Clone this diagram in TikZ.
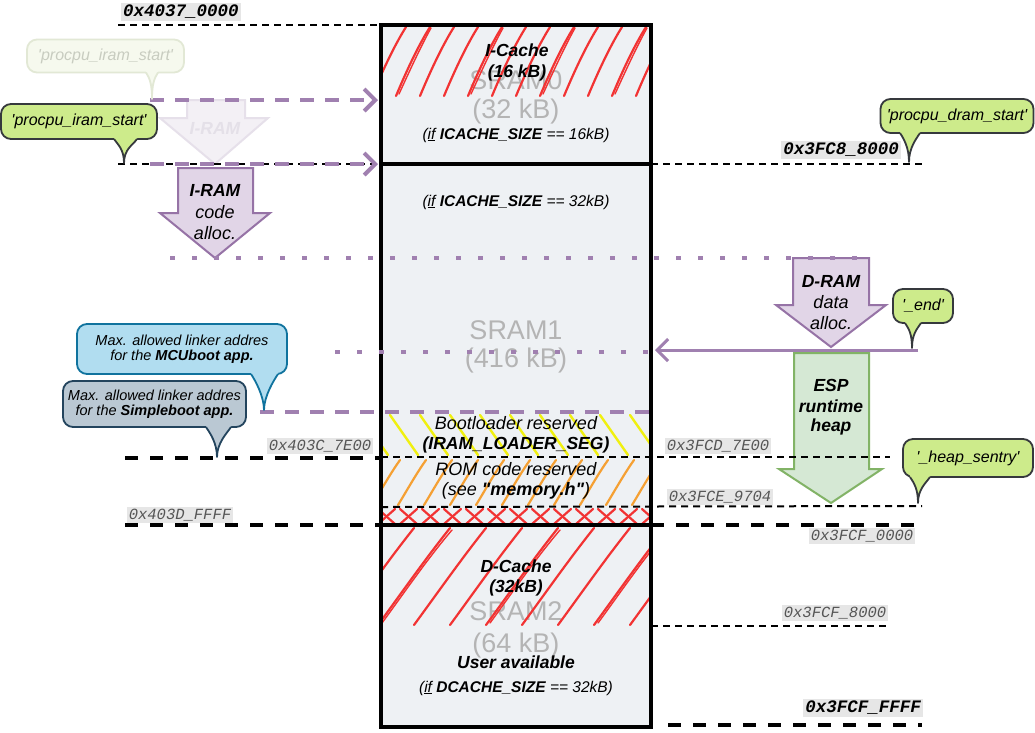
\documentclass[tikz,border=0pt]{standalone}
\usepackage{fontspec}
\setmainfont{Liberation Sans}
\newfontfamily\addrfont{Liberation Mono}
\usetikzlibrary{arrows.meta}
\newcommand\myfs[1]{\fontsize{#1}{#1}\selectfont}
\definecolor{boxfill}{HTML}{EEF1F4}
\definecolor{sramgray}{HTML}{B4B4B4}
\definecolor{purp}{RGB}{160,128,176}
\definecolor{arrowfill}{HTML}{E1D5E7}
\definecolor{arrowline}{HTML}{9673A6}
\definecolor{heapfill}{HTML}{D5E8D4}
\definecolor{heapline}{HTML}{82B366}
\definecolor{bubgreen}{HTML}{CDEB8B}
\definecolor{bubline}{HTML}{36393D}
\definecolor{fadefill}{HTML}{F6F9EE}
\definecolor{fadeline}{HTML}{E2E8D5}
\definecolor{fadetext}{HTML}{C8CCC0}
\definecolor{bubblue}{HTML}{B1DDF0}
\definecolor{bubblueline}{HTML}{10739E}
\definecolor{bubgray}{HTML}{BAC8D3}
\definecolor{bubgrayline}{HTML}{23445D}
\definecolor{addrbg}{HTML}{E6E6E6}
\definecolor{addrtxt}{HTML}{555555}
\definecolor{hred}{HTML}{F23333}
\definecolor{hyellow}{HTML}{F0F010}
\definecolor{horange}{HTML}{F5A033}
\definecolor{fadearrowfill}{HTML}{F3F0F5}
\definecolor{fadearrowline}{HTML}{E6E0EA}
\definecolor{fadearrowtext}{HTML}{E4E0E8}
\newcommand\mybubtail[7]{%
  \fill[#1] (#3,#5-5) -- (#3,#5) .. controls (#3+4,#5+6) and (#6,#7-14) .. (#6,#7) .. controls (#6,#7-14) and (#4-4,#5+6) .. (#4,#5) -- (#4,#5-5) -- cycle;
  \draw[#2, line width=1.8pt, line join=round] (#3,#5) .. controls (#3+4,#5+6) and (#6,#7-14) .. (#6,#7) .. controls (#6,#7-14) and (#4-4,#5+6) .. (#4,#5);
}
\tikzset{
  boxline/.style={draw=black, line width=3.5pt},
  sram/.style={text=sramgray, font=\myfs{27}, inner sep=0pt},
  intext/.style={font=\myfs{18}\itshape, inner sep=0pt},
  inbold/.style={font=\myfs{17.5}\bfseries\itshape, inner sep=0pt},
  iftext/.style={font=\myfs{15.5}\itshape, inner sep=0pt},
  addrA/.style={fill=addrbg, inner xsep=2pt, inner ysep=2pt, font=\addrfont\bfseries\itshape\myfs{17.5}, text=black},
  addrB/.style={fill=addrbg, inner xsep=2pt, inner ysep=1.5pt, font=\addrfont\itshape\myfs{15.5}, text=addrtxt},
  thindash/.style={draw=black, line width=2pt, dash pattern=on 7pt off 5pt},
  thickdash/.style={draw=black, line width=4pt, dash pattern=on 13pt off 12pt},
  purpdash/.style={draw=purp, line width=4pt, dash pattern=on 14pt off 11pt},
  purpdot/.style={draw=purp, line width=4.5pt, dash pattern=on 4.5pt off 17.5pt},
  barb/.style={-{Straight Barb[length=11pt,width=22pt]}},
  hatchred/.style={draw=hred, line width=2.2pt, line cap=round},
  hatchyel/.style={draw=hyellow, line width=2.4pt, line cap=round},
  hatchora/.style={draw=horange, line width=2.2pt, line cap=round},
  bubble/.style={line width=1.8pt, rounded corners=10pt, inner sep=0pt, align=center},
  allocarrow/.style={fill=arrowfill, draw=arrowline, line width=2pt},
  heaparrow/.style={fill=heapfill, draw=heapline, line width=2pt},
}
\begin{document}
\begin{tikzpicture}[x=1pt,y=-1pt]
\useasboundingbox (0,0) rectangle (1035,732);
\fill[white] (0,0) rectangle (1035,732);

% memory block background
\fill[boxfill] (381,25) rectangle (651,727);

% large gray region names
\node[sram] (s0a) at (516,80) {SRAM0};
\node[sram] (s0b) at (516,112) {(32 kB)};
\node[sram] (s1a) at (516,330) {SRAM1};
\node[sram] (s1b) at (516,361) {(416 kB)};
\node[sram] (s2a) at (516,611) {SRAM2};
\node[sram] (s2b) at (516,645) {(64 kB)};

% hatches: I-Cache
\begin{scope}
\clip (381,25) rectangle (651,98);
\foreach \x in {372,396,...,660} {
  \draw[hatchred] (\x,96) .. controls (\x+10,72) and (\x+22,46) .. (\x+34,27);
}
\foreach \x in {396,468,540,612} {
  \draw[hatchred, line width=1.4pt] (\x+3,94) .. controls (\x+14,70) and (\x+25,46) .. (\x+35,28);
}
\end{scope}
% Bootloader reserved (yellow)
\begin{scope}
\clip (381,412) rectangle (651,457);
\foreach \x in {360,390,...,660} {
  \draw[hatchyel] (\x,415) -- (\x+28,455);
}
\end{scope}
% ROM code (orange)
\begin{scope}
\clip (381,457) rectangle (651,508);
\foreach \x in {372,398,...,660} {
  \draw[hatchora] (\x,505) .. controls (\x+8,492) and (\x+18,474) .. (\x+28,460);
}
\end{scope}
% crosses
\begin{scope}
\clip (381,508) rectangle (651,525);
\foreach \x in {378,400,...,660} {
  \draw[hatchred] (\x,524) -- (\x+17,509);
  \draw[hatchred] (\x,509) -- (\x+17,524);
}
\end{scope}
% D-Cache
\begin{scope}
\clip (381,525) rectangle (651,628);
\foreach \x in {306,342,...,660} {
  \draw[hatchred] (\x,625) .. controls (\x+22,595) and (\x+48,558) .. (\x+72,528);
}
\foreach \x in {378,486,594} {
  \draw[hatchred, line width=1.4pt] (\x+4,623) .. controls (\x+26,593) and (\x+50,558) .. (\x+74,530);
}
\end{scope}

% memory block borders
\draw[boxline] (381,25) rectangle (651,727);
\coordinate (m0l) at (381,164); \coordinate (m0r) at (651,164);
\coordinate (m1l) at (381,525); \coordinate (m1r) at (651,525);
\draw[boxline] (m0l) -- (m0r);
\draw[boxline] (m1l) -- (m1r);

% faded I-RAM arrow
\draw[fill=fadearrowfill, draw=fadearrowline, line width=2pt] (187,100) -- (245,100) -- (245,118) -- (268,118) -- (215,164) -- (160,118) -- (187,118) -- cycle;
\node[inbold, text=fadearrowtext] (iramfade) at (215,128) {I-RAM};

% I-RAM arrow
\draw[allocarrow] (178,168) -- (253,168) -- (253,213) -- (270,213) -- (215,258) -- (160,213) -- (178,213) -- cycle;
\node[inbold] (iram1) at (215,190) {I-RAM};
\node[intext] (iram2) at (215,212) {code};
\node[intext] (iram3) at (215,233) {alloc.};

% D-RAM arrow
\draw[allocarrow] (793,258) -- (869,258) -- (869,305) -- (886,305) -- (831,347) -- (776,305) -- (793,305) -- cycle;
\node[inbold] (dram1) at (831,281) {D-RAM};
\node[intext] (dram2) at (831,302) {data};
\node[intext] (dram3) at (831,323) {alloc.};

% heap arrow
\draw[heaparrow] (794,353) -- (869,353) -- (869,469) -- (882,469) -- (831,503) -- (779,469) -- (794,469) -- cycle;
\node[inbold] (heap1) at (831,385) {ESP};
\node[inbold] (heap2) at (831,406) {runtime};
\node[inbold] (heap3) at (831,427) {heap};

% address lines
\coordinate (a0l) at (118,25); \coordinate (a0r) at (381,25);
\draw[thindash] (a0l) -- (a0r);
\coordinate (a1l) at (118,164);
\draw[thindash] (a1l) -- (m0l);
\coordinate (a1r) at (922,164);
\draw[thindash] (m0r) -- (a1r);
\coordinate (a2l) at (125,458); \coordinate (a2m) at (381,458);
\draw[thickdash] (a2l) -- (a2m);
\coordinate (a3l) at (381,457); \coordinate (a3r) at (890,457);
\draw[thindash] (a3l) -- (a3r);
\coordinate (a4l) at (381,507); \coordinate (a4r) at (922,506);
\draw[thindash] (a4l) -- (a4r);
\coordinate (a5l) at (125,525);
\draw[thickdash] (a5l) -- (m1l);
\coordinate (a5r) at (922,525);
\draw[thickdash] (m1r) -- (a5r);
\coordinate (a6l) at (651,626); \coordinate (a6r) at (890,626);
\draw[thindash] (a6l) -- (a6r);
\coordinate (a7l) at (668,725); \coordinate (a7r) at (922,725);
\draw[thickdash] (a7l) -- (a7r);

% purple marker lines
\coordinate (p0l) at (150,100); \coordinate (p0r) at (378,100);
\draw[purpdash, barb] (p0l) -- (p0r);
\coordinate (p1l) at (150,164); \coordinate (p1r) at (378,164);
\draw[purpdash, barb] (p1l) -- (p1r);
\coordinate (d0l) at (170,258); \coordinate (d0r) at (872,258);
\draw[purpdot] (d0l) -- (d0r);
\coordinate (d1l) at (335,352); \coordinate (d1r) at (650,352);
\draw[purpdot] (d1l) -- (d1r);
\coordinate (p2l) at (260,412); \coordinate (p2r) at (651,412);
\draw[purpdash] (p2l) -- (p2r);
\coordinate (e0r) at (918,350); \coordinate (e0l) at (655,350);
\draw[draw=purp, line width=3pt, barb] (e0r) -- (e0l);

% texts in memory block
\node[inbold] (ic1) at (517,50) {I-Cache};
\node[inbold] (ic2) at (517,73) {(16 kB)};
\node[iftext] (if16) at (516,135) {(\underline{if} \textbf{ICACHE\_SIZE} == 16kB)};
\node[iftext] (if32) at (516,202) {(\underline{if} \textbf{ICACHE\_SIZE} == 32kB)};
\node[intext] (bl1) at (516,423) {Bootloader reserved};
\node[inbold] (bl2) at (516,445) {(IRAM\_LOADER\_SEG)};
\node[intext] (rom1) at (516,469) {ROM code reserved};
\node[intext] (rom2) at (516,491) {(see \textbf{\textquotedbl memory.h\textquotedbl})};
\node[inbold] (dc1) at (516,566) {D-Cache};
\node[inbold] (dc2) at (516,588) {(32kB)};
\node[inbold] (ua) at (516,662) {User available};
\node[iftext] (dif) at (516,688) {(\underline{if} \textbf{DCACHE\_SIZE} == 32kB)};

% address labels
\node[addrA] (l4037) at (181,12) {0x4037\_0000};
\node[addrA] (l3fc8) at (841,150) {0x3FC8\_8000};
\node[addrB] (l403c) at (320,446) {0x403C\_7E00};
\node[addrB] (l403d) at (180,515) {0x403D\_FFFF};
\node[addrB] (l3fcd) at (718,446) {0x3FCD\_7E00};
\node[addrB] (l3fce) at (720,497) {0x3FCE\_9704};
\node[addrB] (l3fcf0) at (862,536) {0x3FCF\_0000};
\node[addrB] (l3fcf8) at (835,613) {0x3FCF\_8000};
\node[addrA] (l3fcff) at (863,708) {0x3FCF\_FFFF};

% bubbles
\node[bubble, fill=fadefill, draw=fadeline, text=fadetext, font=\myfs{16}\itshape, minimum width=157pt, minimum height=33pt] (bfade) at (105.5,56) {\textquotesingle procpu\_iram\_start\textquotesingle};
\mybubtail{fadefill}{fadeline}{146}{158}{72.5}{152}{99}

\node[bubble, fill=bubgreen, draw=bubline, font=\myfs{16}\itshape, minimum width=156pt, minimum height=35pt] (biram) at (79,121.5) {\textquotesingle procpu\_iram\_start\textquotesingle};
\mybubtail{bubgreen}{bubline}{114}{137}{139}{124}{163}

\node[bubble, fill=bubgreen, draw=bubline, font=\myfs{16}\itshape, minimum width=153pt, minimum height=34pt] (bdram) at (957,116) {\textquotesingle procpu\_dram\_start\textquotesingle};
\mybubtail{bubgreen}{bubline}{900}{920}{133}{909}{162}

\node[bubble, fill=bubgreen, draw=bubline, font=\myfs{16}\itshape, minimum width=60pt, minimum height=34pt] (bend) at (923,306) {\textquotesingle\_end\textquotesingle};
\mybubtail{bubgreen}{bubline}{905}{921}{323}{912}{348}

\node[bubble, fill=bubgreen, draw=bubline, font=\myfs{16}\itshape, minimum width=130pt, minimum height=38pt] (bheap) at (968,458) {\textquotesingle\_heap\_sentry\textquotesingle};
\mybubtail{bubgreen}{bubline}{910}{930}{477}{918}{503}

\node[bubble, fill=bubblue, draw=bubblueline, font=\myfs{14.5}\itshape, minimum width=210pt, minimum height=50pt] (bmcu) at (182,349) {Max. allowed linker addres\\[1pt]for the \textbf{MCUboot app.}};
\mybubtail{bubblue}{bubblueline}{251}{278}{374}{264}{410}

\node[bubble, fill=bubgray, draw=bubgrayline, font=\myfs{14.5}\itshape, minimum width=183pt, minimum height=46pt] (bsimple) at (154.5,404) {Max. allowed linker addres\\[1pt]for the \textbf{Simpleboot app.}};
\mybubtail{bubgray}{bubgrayline}{206}{231}{427}{217}{457}
\end{tikzpicture}
\end{document}
